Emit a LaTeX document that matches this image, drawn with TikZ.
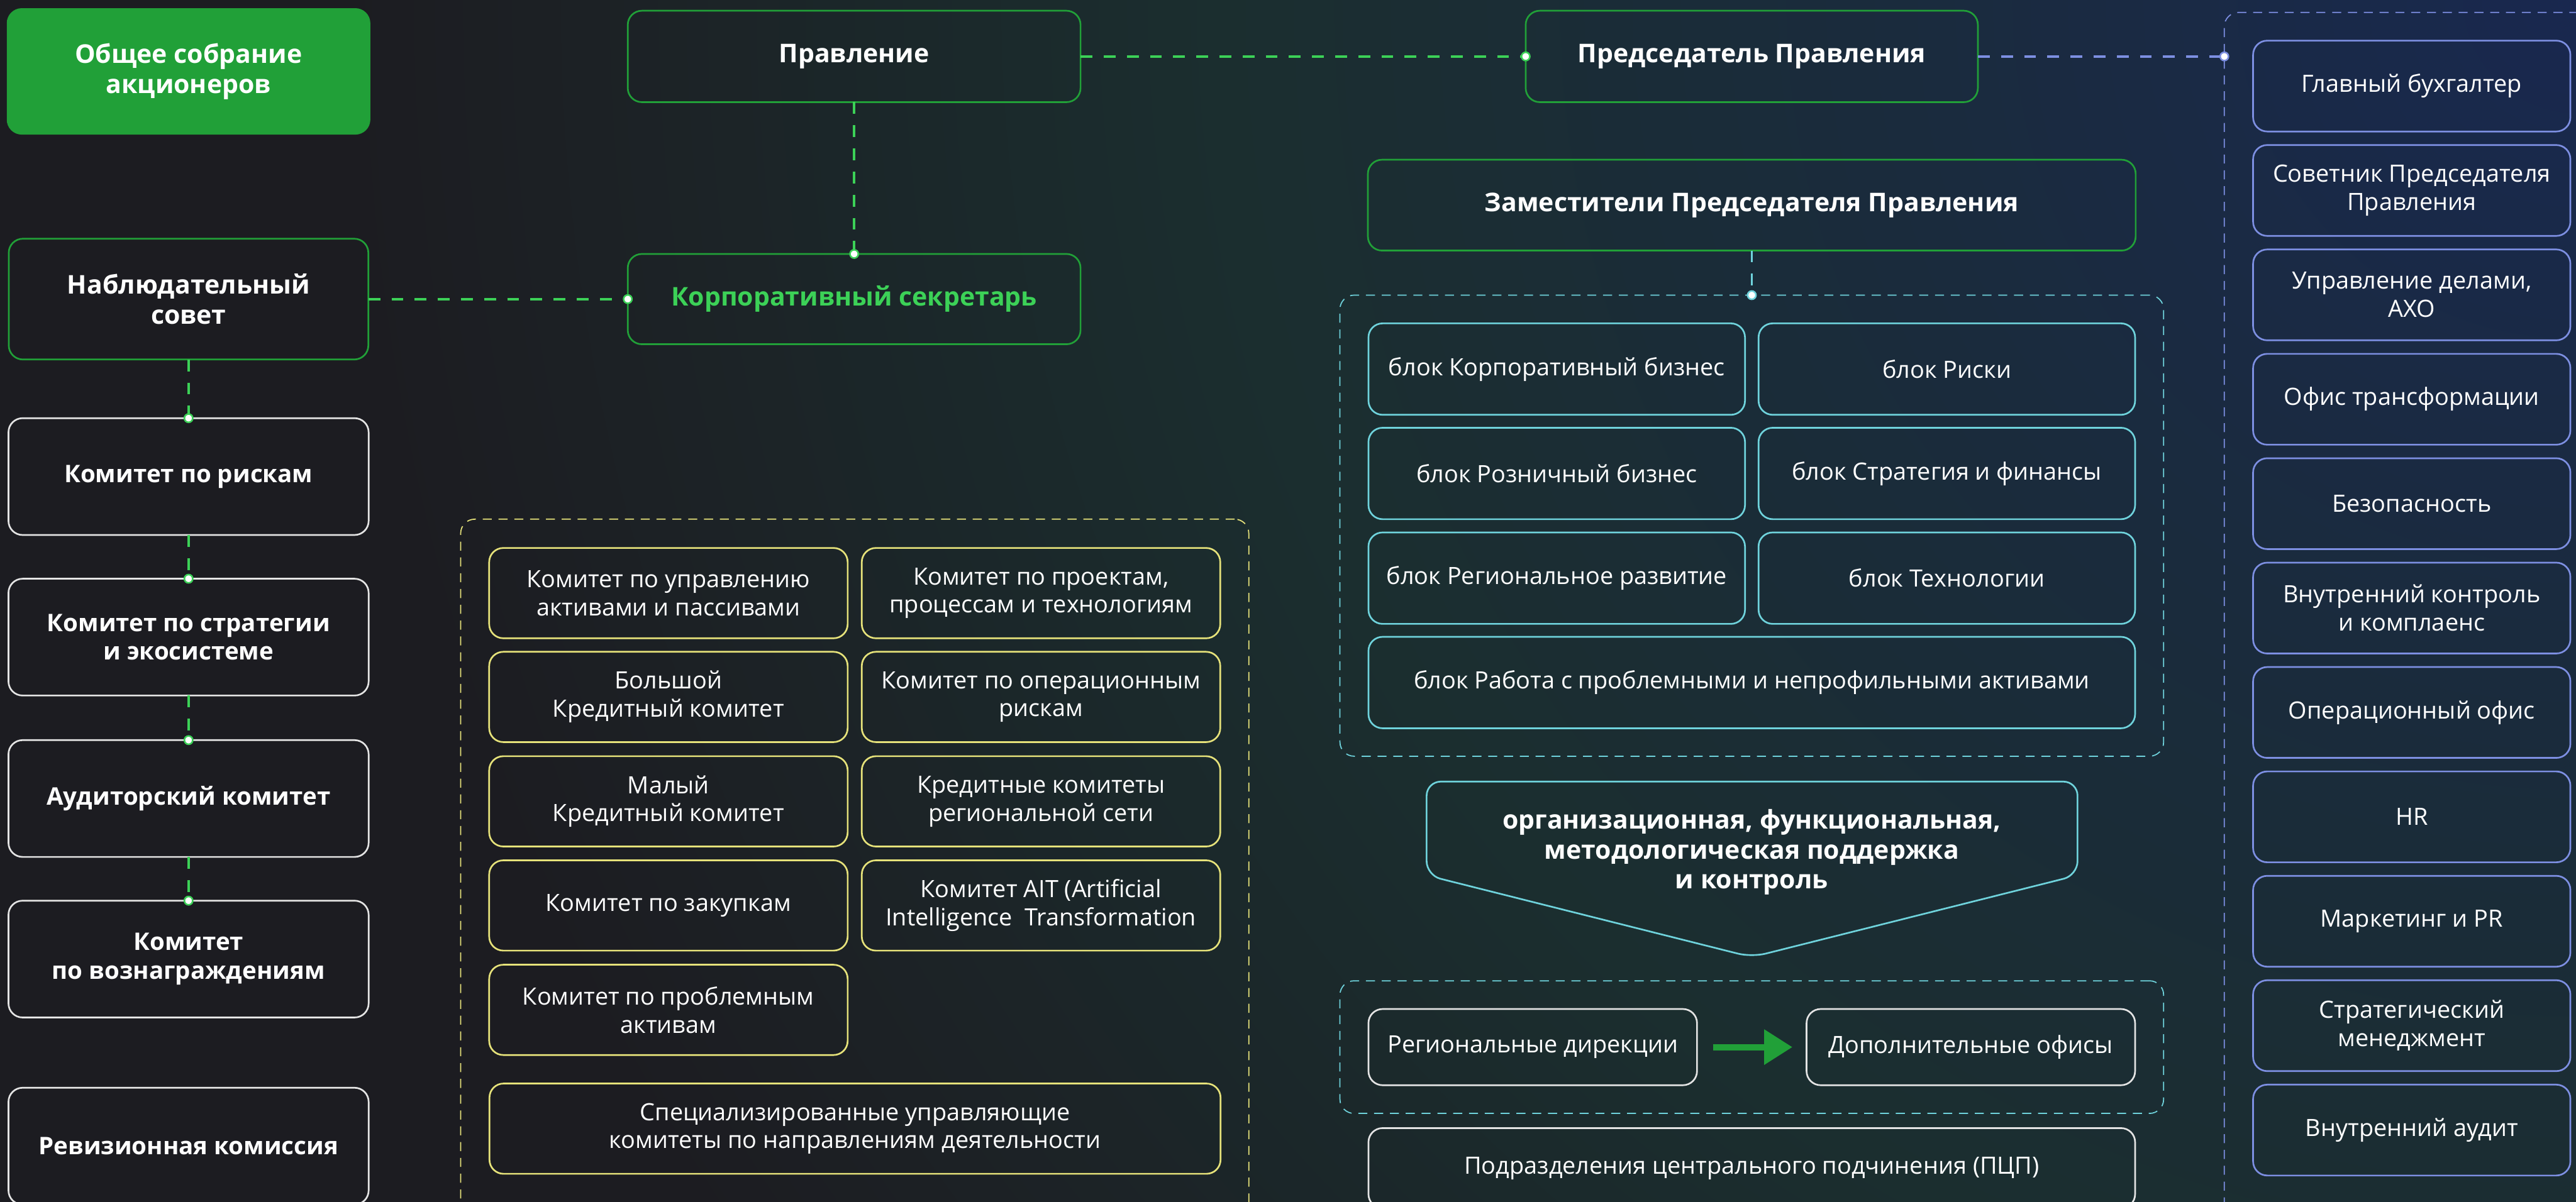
\documentclass[tikz,border=0pt]{standalone}
\usepackage{fontspec}
\setmainfont{Open Sans}
\usetikzlibrary{arrows.meta}

\definecolor{bgdark}{HTML}{1C1C21}
\definecolor{bgteal}{HTML}{1B2E2F}
\definecolor{bgmid}{HTML}{1A2B3D}
\definecolor{bgblue}{HTML}{19284F}
\definecolor{sgreen}{HTML}{21A038}
\definecolor{lgreen}{HTML}{3CD157}
\definecolor{yel}{HTML}{E6E27A}
\definecolor{cyn}{HTML}{6FD3DC}
\definecolor{blu}{HTML}{7D8FE2}
\definecolor{gry}{HTML}{E4E4E4}

\newcommand\bigbold{\fontsize{13}{15}\selectfont\bfseries}
\newcommand\kombold{\fontsize{12.2}{14.5}\selectfont\bfseries}
\newcommand\normtxt{\fontsize{12}{14.2}\selectfont}

\pgfdeclareradialshading{bgglow}{\pgfpoint{0bp}{0bp}}{color(0bp)=(bgblue); color(5bp)=(bgmid); color(10bp)=(bgteal); color(16.5bp)=(bgdark); color(50bp)=(bgdark)}

\begin{document}
\begin{tikzpicture}[
  sz/.style 2 args={minimum width=#1cm,minimum height=#2cm},
  box/.style={draw,rounded corners=0.25cm,line width=0.85pt,align=center,text=white,inner sep=0pt,outer sep=0pt,font=\normtxt},
  grp/.style={draw=#1,rounded corners=0.25cm,line width=0.55pt,dash pattern=on 0.16cm off 0.12cm,inner sep=0pt,outer sep=0pt},
  link/.style={#1,line width=1.2pt,dash pattern=on 0.21cm off 0.2cm,-{Circle[fill=white,length=5pt,line width=0.8pt]},shorten >=-2.5pt},
  link/.default=lgreen,
  bigarrow/.style={sgreen,line width=0.11cm,-{Triangle[length=0.5cm,width=0.6cm]},shorten <=0.28cm,shorten >=0.25cm}
]
\useasboundingbox (0,0) rectangle (45.63,-21.29);
\clip (0,0) rectangle (45.63,-21.29);
\fill[bgdark] (-1,1) rectangle (46.63,-22.29);
\shade[shading=bgglow] (45.63,0) circle (60);

\node[box,fill=sgreen,draw=sgreen,font=\bigbold,sz={6.41}{2.21}] (gms) at (3.34,-1.265) {Общее собрание\\акционеров};
\node[box,draw=sgreen,font=\bigbold,sz={8.02}{1.62}] (pravl) at (15.13,-1.00) {Правление};
\node[box,draw=sgreen,font=\bigbold,sz={8.01}{1.62}] (pred) at (31.03,-1.00) {Председатель Правления};
\node[box,draw=sgreen,font=\bigbold,sz={6.37}{2.14}] (nabl) at (3.34,-5.30) {Наблюдательный\\совет};
\node[box,draw=sgreen,font=\bigbold,text=lgreen,sz={8.02}{1.60}] (sekr) at (15.13,-5.30) {Корпоративный секретарь};
\node[box,draw=sgreen,font=\bigbold,sz={13.60}{1.61}] (zam) at (31.03,-3.635) {Заместители Председателя Правления};

\node[box,draw=gry,font=\kombold,sz={6.38}{2.07}] (k1) at (3.34,-8.445) {Комитет по рискам};
\node[box,draw=gry,font=\kombold,sz={6.38}{2.07}] (k2) at (3.34,-11.29) {Комитет по стратегии\\и экосистеме};
\node[box,draw=gry,font=\kombold,sz={6.38}{2.07}] (k3) at (3.34,-14.15) {Аудиторский комитет};
\node[box,draw=gry,font=\kombold,sz={6.38}{2.07}] (k4) at (3.34,-16.995) {Комитет\\по вознаграждениям};
\node[box,draw=gry,font=\kombold,sz={6.38}{2.07}] (k5) at (3.34,-20.31) {Ревизионная комиссия};

\node[grp=yel,sz={13.96}{12.4}] (ygrp) at (15.14,-15.40) {};
\node[box,draw=yel,sz={6.35}{1.60}] (y1) at (11.84,-10.51) {Комитет по управлению\\активами и пассивами};
\node[box,draw=yel,sz={6.35}{1.60}] (y2) at (18.44,-10.51) {Комитет по проектам,\\процессам и технологиям};
\node[box,draw=yel,sz={6.35}{1.60}] (y3) at (11.84,-12.35) {Большой\\Кредитный комитет};
\node[box,draw=yel,sz={6.35}{1.60}] (y4) at (18.44,-12.35) {Комитет по операционным\\рискам};
\node[box,draw=yel,sz={6.35}{1.60}] (y5) at (11.84,-14.20) {Малый\\Кредитный комитет};
\node[box,draw=yel,sz={6.35}{1.60}] (y6) at (18.44,-14.20) {Кредитные комитеты\\региональной сети};
\node[box,draw=yel,sz={6.35}{1.60}] (y7) at (11.84,-16.045) {Комитет по закупкам};
\node[box,draw=yel,sz={6.35}{1.60}] (y8) at (18.44,-16.045) {Комитет AIT (Artificial\\Intelligence\ \ Transformation};
\node[box,draw=yel,sz={6.35}{1.60}] (y9) at (11.84,-17.895) {Комитет по проблемным\\активам};
\node[box,draw=yel,sz={12.95}{1.60}] (y10) at (15.145,-20.00) {Специализированные управляющие\\комитеты по направлениям деятельности};

\node[grp=cyn,sz={14.59}{8.17}] (bgrp) at (31.03,-9.315) {};
\node[box,draw=cyn,sz={6.67}{1.62}] (b1) at (27.575,-6.54) {блок Корпоративный бизнес};
\node[box,draw=cyn,sz={6.67}{1.62}] (b2) at (34.485,-6.54) {блок Риски};
\node[box,draw=cyn,sz={6.67}{1.62}] (b3) at (27.575,-8.39) {блок Розничный бизнес};
\node[box,draw=cyn,sz={6.67}{1.62}] (b4) at (34.485,-8.39) {блок Стратегия и финансы};
\node[box,draw=cyn,sz={6.67}{1.62}] (b5) at (27.575,-10.245) {блок Региональное развитие};
\node[box,draw=cyn,sz={6.67}{1.62}] (b6) at (34.485,-10.245) {блок Технологии};
\node[box,draw=cyn,sz={13.58}{1.62}] (b7) at (31.03,-12.095) {блок Работа с проблемными и непрофильными активами};

\draw[cyn,line width=0.85pt,rounded corners=0.25cm] (25.27,-13.85) -- (36.80,-13.85) -- (36.80,-15.51) -- (31.03,-16.96) -- (25.27,-15.51) -- cycle;
\node[align=center,text=white,font=\bigbold] (podd) at (31.03,-15.10) {организационная, функциональная,\\методологическая поддержка\\и контроль};

\node[grp=cyn,sz={14.59}{2.35}] (rgrp) at (31.03,-18.555) {};
\node[box,draw=gry,sz={5.82}{1.35}] (reg) at (27.15,-18.555) {Региональные дирекции};
\node[box,draw=gry,sz={5.82}{1.35}] (dop) at (34.91,-18.555) {Дополнительные офисы};
\node[box,draw=gry,sz={13.58}{1.42}] (pcp) at (31.03,-20.70) {Подразделения центрального подчинения (ПЦП)};

\node[grp=blu,sz={6.80}{21.38}] (apparat) at (42.80,-10.91) {};
\node[box,draw=blu,sz={5.62}{1.61}] (p1) at (42.72,-1.525) {Главный бухгалтер};
\node[box,draw=blu,sz={5.62}{1.61}] (p2) at (42.72,-3.375) {Советник Председателя\\Правления};
\node[box,draw=blu,sz={5.62}{1.61}] (p3) at (42.72,-5.225) {Управление делами,\\АХО};
\node[box,draw=blu,sz={5.62}{1.61}] (p4) at (42.72,-7.075) {Офис трансформации};
\node[box,draw=blu,sz={5.62}{1.61}] (p5) at (42.72,-8.925) {Безопасность};
\node[box,draw=blu,sz={5.62}{1.61}] (p6) at (42.72,-10.775) {Внутренний контроль\\и комплаенс};
\node[box,draw=blu,sz={5.62}{1.61}] (p7) at (42.72,-12.625) {Операционный офис};
\node[box,draw=blu,sz={5.62}{1.61}] (p8) at (42.72,-14.475) {HR};
\node[box,draw=blu,sz={5.62}{1.61}] (p9) at (42.72,-16.325) {Маркетинг и PR};
\node[box,draw=blu,sz={5.62}{1.61}] (p10) at (42.72,-18.175) {Стратегический\\менеджмент};
\node[box,draw=blu,sz={5.62}{1.61}] (p11) at (42.72,-20.025) {Внутренний аудит};

\draw[link] (pravl.east) -- (pred.west);
\draw[link] (pravl.south) -- (sekr.north);
\draw[link] (nabl.east) -- (sekr.west);
\draw[link] (nabl.south) -- (k1.north);
\draw[link] (k1.south) -- (k2.north);
\draw[link] (k2.south) -- (k3.north);
\draw[link] (k3.south) -- (k4.north);
\draw[link=blu] (pred.east) -- (pred.east -| apparat.west);
\draw[link=cyn,line width=0.8pt] (zam.south) -- (bgrp.north);
\draw[bigarrow] (reg) -- (dop);
\end{tikzpicture}
\end{document}
